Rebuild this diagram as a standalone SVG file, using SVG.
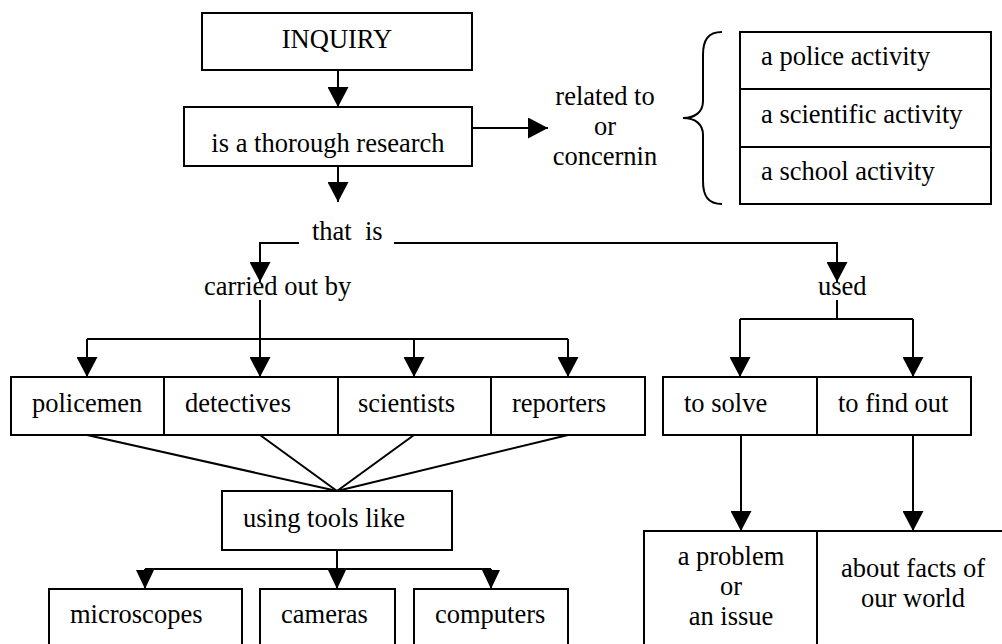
<svg xmlns="http://www.w3.org/2000/svg" width="1002" height="644" viewBox="0 0 1002 644">
  <style>
    .box { fill: #ffffff; stroke: #000000; stroke-width: 2; }
    .ln { fill: none; stroke: #000000; stroke-width: 2; }
    .arr { fill: none; stroke: #000000; stroke-width: 2; marker-end: url(#ah); }
    .arrs { fill: none; stroke: #000000; stroke-width: 2; marker-end: url(#ahs); }
    text { font-family: "Liberation Serif", "Times New Roman", serif; font-size: 26.5px; fill: #000000; }
    .c { text-anchor: middle; }
  </style>
  <defs>
    <marker id="ah" markerUnits="userSpaceOnUse" markerWidth="21" markerHeight="21" refX="20" refY="10.5" orient="auto">
      <path d="M0,0 L20,10.5 L0,21 Z" fill="#000000"/>
    </marker>
    <marker id="ahs" markerUnits="userSpaceOnUse" markerWidth="19" markerHeight="18" refX="19" refY="9" orient="auto">
      <path d="M0,0 L19,9 L0,18 Z" fill="#000000"/>
    </marker>
  </defs>
  <rect width="1002" height="644" fill="#ffffff"/>

  <g id="connectors">
    <line class="arr" x1="338" y1="70" x2="338" y2="107"/>
    <line class="arr" x1="338" y1="166" x2="338" y2="202"/>
    <line class="arr" x1="472" y1="128" x2="548" y2="128"/>
    <path class="ln" d="M722,32 C708,32 703,40 703,55 L703,101 C703,112 695,118 683,118 C695,118 703,124 703,135 L703,181 C703,196 708,204 722,204"/>
    <path class="arr" d="M299,243 L260,243 L260,282"/>
    <path class="arr" d="M394,243 L837,243 L837,282"/>
    <line class="ln" x1="260" y1="300" x2="260" y2="339"/>
    <line class="ln" x1="87" y1="339" x2="568" y2="339"/>
    <line class="arr" x1="87" y1="339" x2="87" y2="377"/>
    <line class="arr" x1="260" y1="339" x2="260" y2="377"/>
    <line class="arr" x1="414" y1="339" x2="414" y2="377"/>
    <line class="arr" x1="568" y1="339" x2="568" y2="377"/>
    <line class="ln" x1="837" y1="300" x2="837" y2="319"/>
    <line class="ln" x1="740" y1="319" x2="913" y2="319"/>
    <line class="arr" x1="740" y1="319" x2="740" y2="377"/>
    <line class="arr" x1="913" y1="319" x2="913" y2="377"/>
    <line class="ln" x1="87" y1="435" x2="337" y2="491"/>
    <line class="ln" x1="260" y1="435" x2="337" y2="491"/>
    <line class="ln" x1="414" y1="435" x2="337" y2="491"/>
    <line class="ln" x1="568" y1="435" x2="337" y2="491"/>
    <line class="ln" x1="337" y1="550" x2="337" y2="569"/>
    <line class="ln" x1="145" y1="569" x2="491" y2="569"/>
    <line class="arrs" x1="145" y1="569" x2="145" y2="589"/>
    <line class="arrs" x1="337" y1="569" x2="337" y2="589"/>
    <line class="arrs" x1="491" y1="569" x2="491" y2="589"/>
    <line class="arr" x1="741" y1="435" x2="741" y2="531"/>
    <line class="arr" x1="913" y1="435" x2="913" y2="531"/>
  </g>

  <g id="inquiry">
    <rect class="box" x="202" y="13" width="270" height="57"/>
    <text class="c" x="337" y="48">INQUIRY</text>
  </g>
  <g id="research">
    <rect class="box" x="184" y="107" width="288" height="59"/>
    <text class="c" x="328" y="152">is a thorough research</text>
  </g>
  <g id="related">
    <text class="c" x="605" y="105">related to</text>
    <text class="c" x="605" y="135">or</text>
    <text class="c" x="605" y="165">concernin</text>
  </g>
  <g id="police-activity">
    <rect class="box" x="740" y="32" width="251" height="57"/>
    <text x="761" y="65">a police activity</text>
  </g>
  <g id="scientific-activity">
    <rect class="box" x="740" y="89" width="251" height="58"/>
    <text x="761" y="123">a scientific activity</text>
  </g>
  <g id="school-activity">
    <rect class="box" x="740" y="147" width="251" height="57"/>
    <text x="761" y="180">a school activity</text>
  </g>
  <g id="that-is">
    <text x="312" y="240" xml:space="preserve">that  is</text>
  </g>
  <g id="carried-out-by">
    <text x="204" y="295">carried out by</text>
  </g>
  <g id="used">
    <text x="818" y="295">used</text>
  </g>
  <g id="policemen">
    <rect class="box" x="11" y="377" width="153" height="58"/>
    <text x="32" y="412">policemen</text>
  </g>
  <g id="detectives">
    <rect class="box" x="164" y="377" width="174" height="58"/>
    <text x="185" y="412">detectives</text>
  </g>
  <g id="scientists">
    <rect class="box" x="338" y="377" width="153" height="58"/>
    <text x="358" y="412">scientists</text>
  </g>
  <g id="reporters">
    <rect class="box" x="491" y="377" width="154" height="58"/>
    <text x="512" y="412">reporters</text>
  </g>
  <g id="to-solve">
    <rect class="box" x="663" y="377" width="154" height="58"/>
    <text x="684" y="412">to solve</text>
  </g>
  <g id="to-find-out">
    <rect class="box" x="817" y="377" width="154" height="58"/>
    <text x="838" y="412">to find out</text>
  </g>
  <g id="using-tools">
    <rect class="box" x="222" y="491" width="230" height="59"/>
    <text x="243" y="527">using tools like</text>
  </g>
  <g id="microscopes">
    <rect class="box" x="49" y="589" width="193" height="80"/>
    <text x="70" y="623">microscopes</text>
  </g>
  <g id="cameras">
    <rect class="box" x="260" y="589" width="135" height="80"/>
    <text x="281" y="623">cameras</text>
  </g>
  <g id="computers">
    <rect class="box" x="414" y="589" width="154" height="80"/>
    <text x="435" y="623">computers</text>
  </g>
  <g id="problem">
    <rect class="box" x="644" y="531" width="173" height="130"/>
    <text class="c" x="731" y="565">a problem</text>
    <text class="c" x="731" y="595">or</text>
    <text class="c" x="731" y="625">an issue</text>
  </g>
  <g id="facts">
    <rect class="box" x="817" y="531" width="200" height="130"/>
    <text class="c" x="913" y="577">about facts of</text>
    <text class="c" x="913" y="607">our world</text>
  </g>
</svg>
